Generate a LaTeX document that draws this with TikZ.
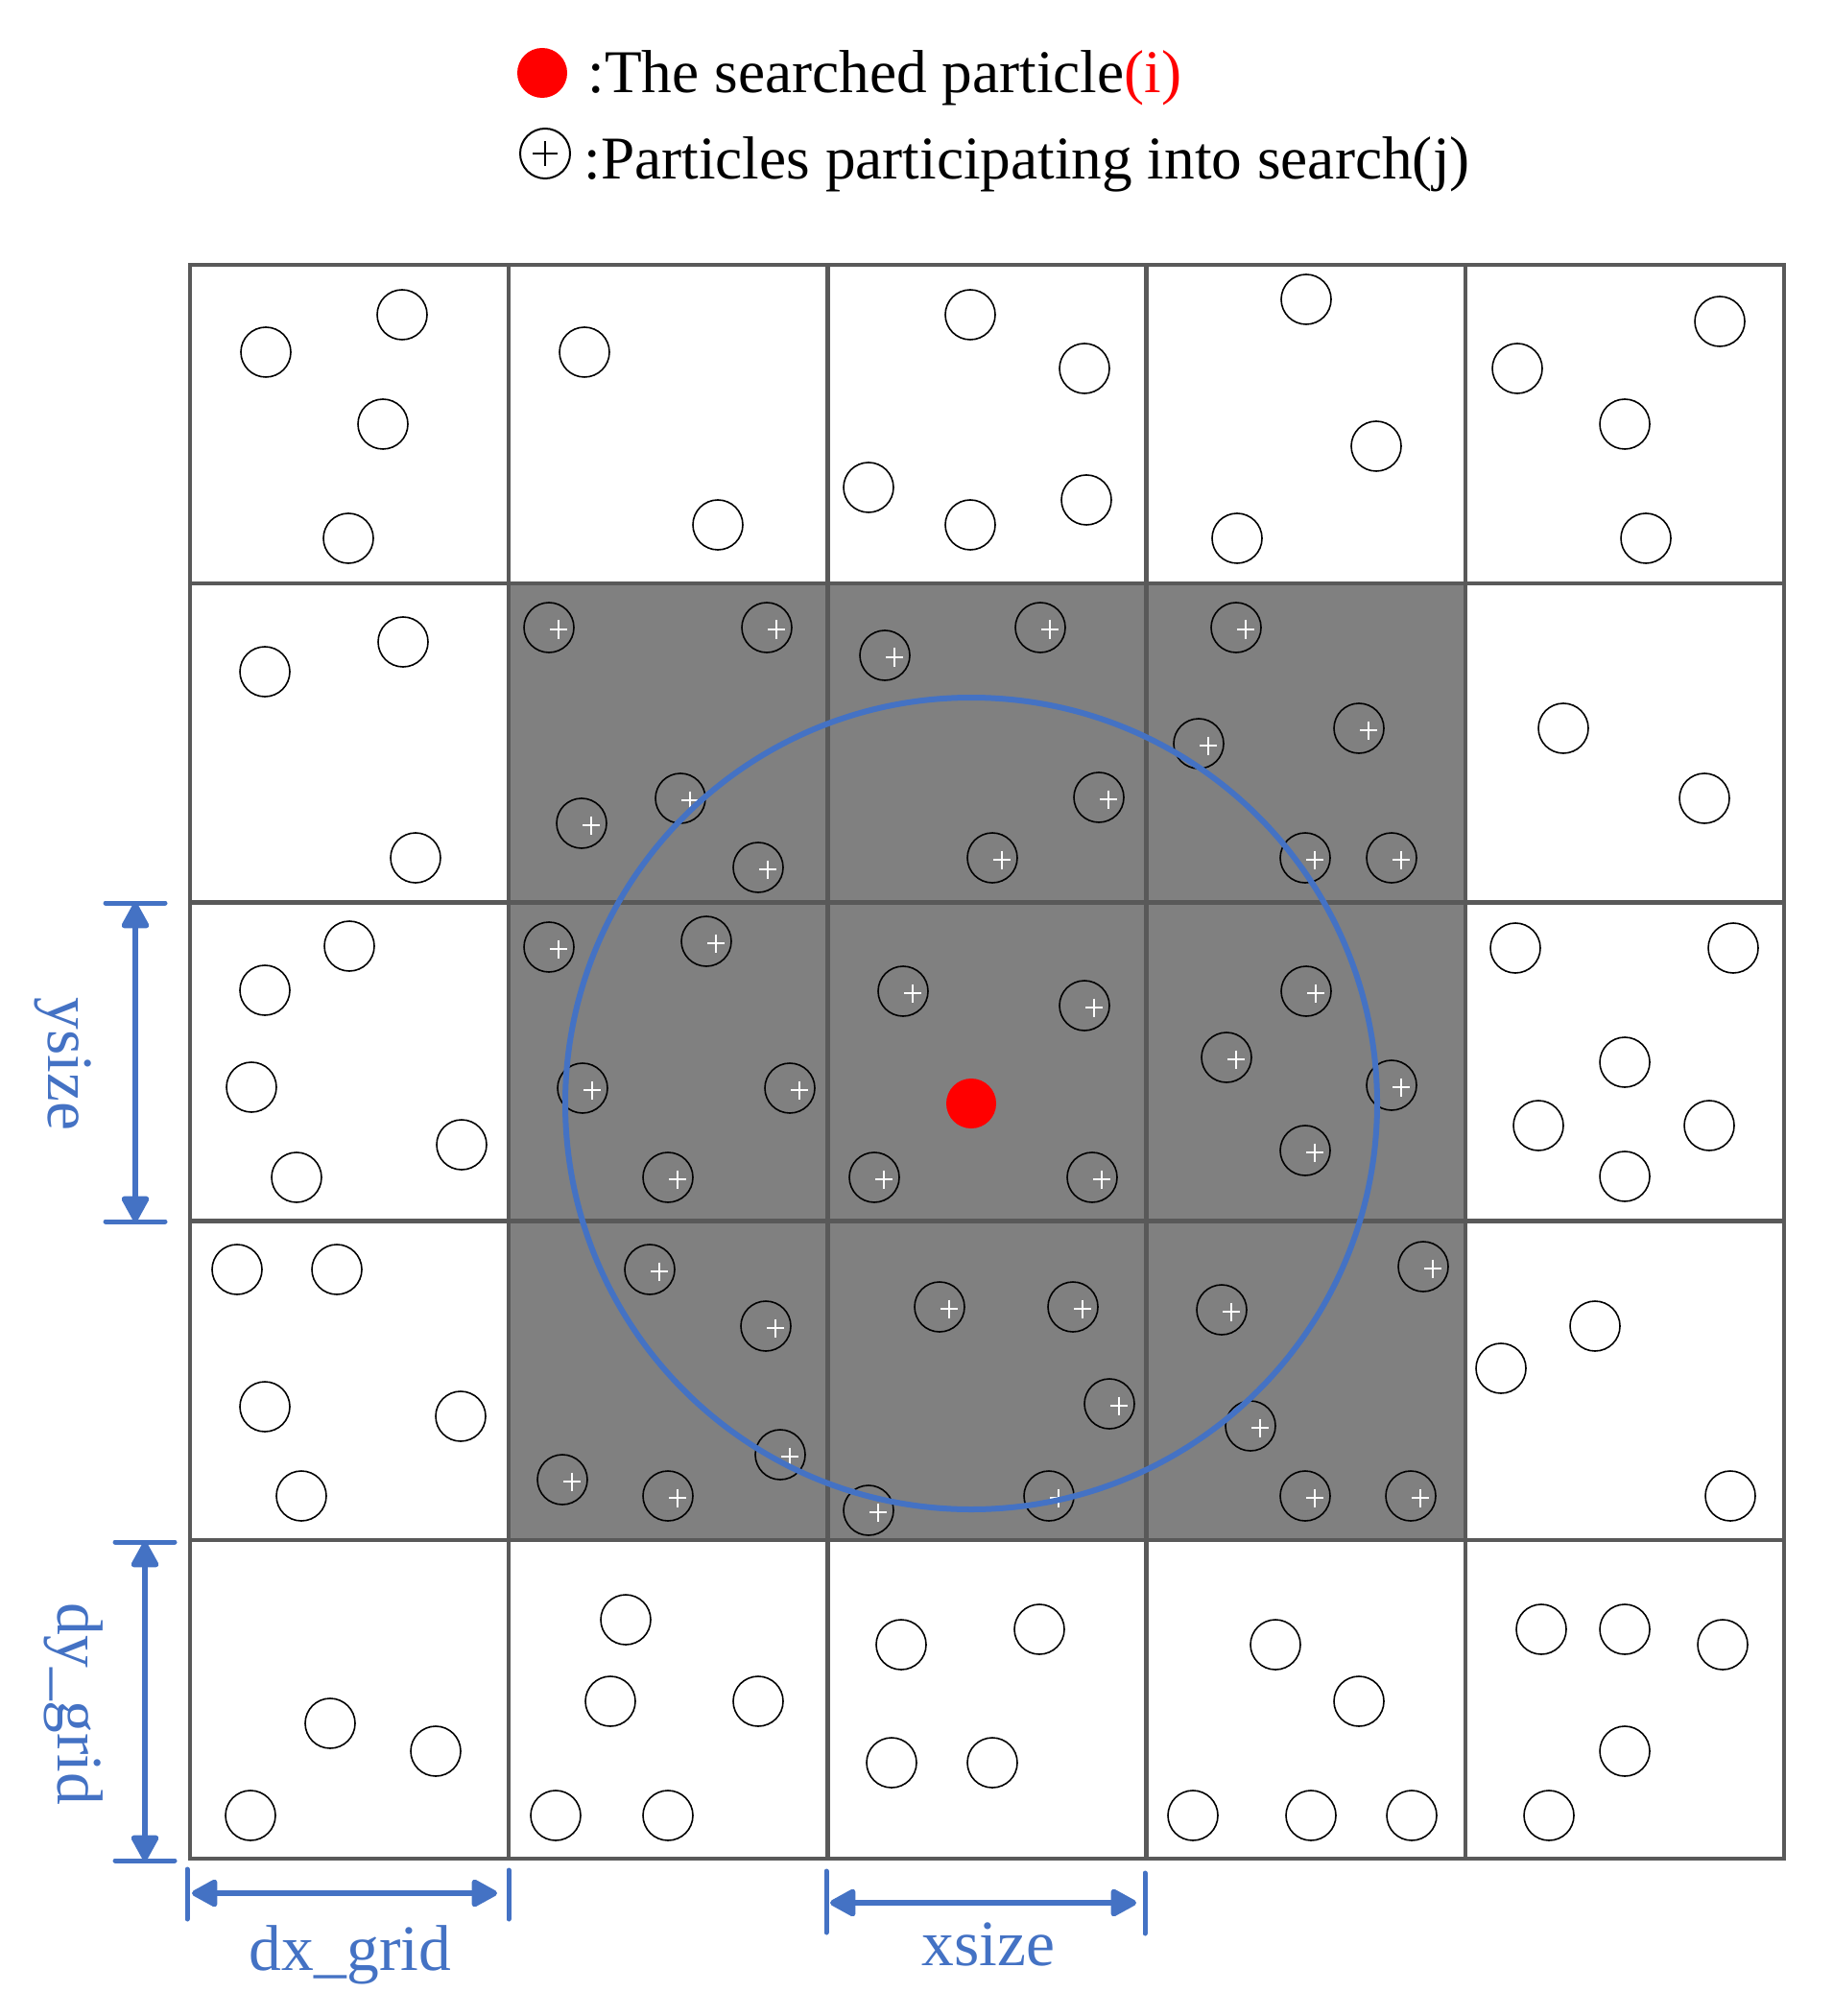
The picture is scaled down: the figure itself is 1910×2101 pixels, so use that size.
\documentclass[tikz,border=0pt]{standalone}
\usepackage{fontspec}
\setmainfont{Liberation Serif}
\usetikzlibrary{arrows.meta}
\definecolor{gridgray}{RGB}{89,89,89}
\definecolor{cellgray}{RGB}{128,128,128}
\definecolor{myblue}{RGB}{68,114,196}
\definecolor{myred}{RGB}{255,0,0}
\begin{document}
\begin{tikzpicture}[x=0.01cm,y=-0.01cm,
  gridline/.style={draw=gridgray,line width=0.045cm,line cap=rect},
  particle/.style={draw=black,line width=0.016cm},
  plusmark/.style={draw=white,line width=0.028cm},
  dimline/.style={draw=myblue,line width=0.06cm,{Triangle[length=0.3cm,width=0.31cm,round]}-{Triangle[length=0.3cm,width=0.31cm,round]}},
  dimbar/.style={draw=myblue,line width=0.05cm,line cap=round},
  dimlabel/.style={text=myblue,font=\fontsize{19.2pt}{22pt}\selectfont,inner sep=0pt},
  legendtext/.style={font=\fontsize{18pt}{21pt}\selectfont,inner sep=0pt,anchor=base west}
]
\useasboundingbox (0,0) rectangle (1910,2101);
\fill[white] (0,0) rectangle (1910,2101);
% shaded 3x3 block
\fill[cellgray] (530,608.5) rectangle (1527,1605);
% grid
\foreach \i in {0,...,5} {
  \draw[gridline] (198+332.2*\i,276) -- (198+332.2*\i,1937);
  \draw[gridline] (198,276+332.2*\i) -- (1859,276+332.2*\i);
}
% particles outside the search block
\foreach \x/\y in {
  277/367, 419/328, 399/442, 363/561,
  609/367, 748/547,
  1011/328, 1130/384, 905/508, 1011/547, 1132/521,
  1361/312, 1434/465, 1289/561,
  1792/335, 1581/384, 1693/442, 1715/561,
  276/700, 420/669, 433/894,
  1629/759, 1776/832,
  364/986, 276/1032, 262/1133, 481/1193, 309/1227,
  1579/988, 1806/988, 1693/1107, 1603/1173, 1781/1173, 1693/1226,
  247/1323, 351/1323, 276/1466, 480/1476, 314/1559,
  1662/1382, 1564/1426, 1803/1559,
  344/1796, 454/1825, 261/1892,
  652/1688, 636/1773, 790/1773, 579/1892, 696/1892,
  1083/1698, 939/1714, 929/1837, 1034/1837,
  1329/1714, 1416/1773, 1243/1892, 1366/1892, 1471/1892,
  1606/1698, 1693/1698, 1795/1714, 1693/1825, 1614/1892}
  \draw[particle] (\x,\y) circle[radius=26];
% particles participating into search
\foreach \x/\y in {
  572/654, 799/654, 709/832, 606/858, 790/904,
  922/683, 1084/654, 1145/831, 1034/894,
  1288/654, 1416/759, 1249/775, 1360/894, 1450/894,
  572/987, 736/981, 607/1134, 823/1134, 696/1227,
  941/1033, 1130/1048, 911/1227, 1138/1227,
  1361/1033, 1278/1102, 1450/1131, 1360/1199,
  677/1323, 798/1382, 813/1516, 586/1542, 696/1559,
  979/1362, 1118/1362, 1156/1463, 905/1574, 1093/1559,
  1483/1320, 1273/1365, 1303/1486, 1360/1559, 1470/1559} {
  \draw[particle] (\x,\y) circle[radius=26];
  \draw[plusmark] (\x+1,\y+2) -- (\x+19,\y+2) (\x+10,\y-7.5) -- (\x+10,\y+12);
}
% search radius and searched particle
\draw[myblue,line width=0.06cm] (1012,1150) circle[radius=423];
\fill[myred] (1012,1150) circle[radius=26];
% legend
\fill[myred] (565,76) circle[radius=26];
\draw[black,line width=0.02cm] (568,160) circle[radius=26];
\draw[black,line width=0.016cm] (555,160) -- (581,160) (568,147) -- (568,173);
\node[legendtext] (leg1) at (612,97) {:The searched particle\textcolor{myred}{(i)}};
\node[legendtext] (leg2) at (608,187) {:Particles participating into search(j)};
% ysize
\coordinate (ys1) at (141,941); \coordinate (ys2) at (141,1273);
\draw[dimbar] (110,941) -- (172,941);
\draw[dimbar] (110,1273) -- (172,1273);
\draw[dimline] (ys1) -- (ys2);
\node[dimlabel,rotate=-90,anchor=base] (ylab) at (50,1109) {ysize};
% dy_grid
\coordinate (dy1) at (151,1607); \coordinate (dy2) at (151,1939);
\draw[dimbar] (120,1607) -- (182,1607);
\draw[dimbar] (120,1939) -- (182,1939);
\draw[dimline] (dy1) -- (dy2);
\node[dimlabel,rotate=-90,anchor=base] (dylab) at (60,1776) {dy\_grid};
% dx_grid
\coordinate (dx1) at (200,1973); \coordinate (dx2) at (518,1973);
\draw[dimbar] (195,1948) -- (195,2000);
\draw[dimbar] (530,1949) -- (530,2000);
\draw[dimline] (dx1) -- (dx2);
\node[dimlabel,anchor=base] (dxlab) at (365,2053) {dx\_grid};
% xsize
\coordinate (xs1) at (865,1983); \coordinate (xs2) at (1184,1983);
\draw[dimbar] (861,1950) -- (861,2014);
\draw[dimbar] (1193,1952) -- (1193,2015);
\draw[dimline] (xs1) -- (xs2);
\node[dimlabel,anchor=base] (xslab) at (1030,2048) {xsize};
\end{tikzpicture}
\end{document}
